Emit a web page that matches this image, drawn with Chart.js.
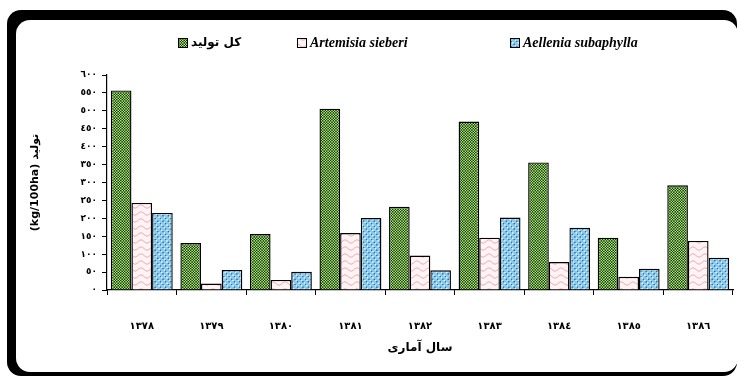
<!DOCTYPE html>
<html>
<head>
<meta charset="utf-8">
<script src="https://cdn.jsdelivr.net/npm/chart.js@4/dist/chart.umd.min.js"></script>
<style>
  html, body { margin: 0; padding: 0; background: #fff; }
  canvas { display: block; }
</style>
</head>
<body>
<canvas id="c" width="737" height="376"></canvas>
<script>
// Years (Persian calendar) and production per species
const years = ['١٣٧٨', '١٣٧٩', '١٣٨٠', '١٣٨١', '١٣٨٢', '١٣٨٣', '١٣٨٤', '١٣٨٥', '١٣٨٦'];
const totalProduction = [557, 131, 156, 506, 232, 470, 356, 146, 292];
const artemisiaSieberi = [243, 18, 28, 159, 96, 146, 78, 37, 137];
const aelleniaSubaphylla = [215, 56, 51, 201, 55, 202, 174, 59, 90];
const yTickLabels = ['٠', '٥٠', '١٠٠', '١٥٠', '٢٠٠', '٢٥٠', '٣٠٠', '٣٥٠', '٤٠٠', '٤٥٠', '٥٠٠', '٥٥٠', '٦٠٠'];
const seriesNames = ['کل تولید', 'Artemisia sieberi', 'Aellenia subaphylla'];

// Hatch fills for the bars
function tile(w, h, paint, scale) {
  const cv = document.createElement('canvas');
  cv.width = w; cv.height = h;
  const g = cv.getContext('2d');
  paint(g);
  const p = g.createPattern(cv, 'repeat');
  if (scale && p.setTransform) p.setTransform(new DOMMatrix().scale(scale));
  return p;
}
const greenFill = tile(8, 8, g => {
  g.fillStyle = '#16380a'; g.fillRect(0, 0, 8, 8);
  g.fillStyle = '#aeea7a';
  g.fillRect(0, 0, 2, 2); g.fillRect(4, 0, 2, 2);
  g.fillRect(2, 2, 2, 2); g.fillRect(6, 2, 2, 2);
  g.fillRect(0, 4, 2, 2); g.fillRect(4, 4, 2, 2);
  g.fillRect(2, 6, 2, 2); g.fillRect(6, 6, 2, 2);
}, 0.66);
const pinkFill = tile(12, 7, g => {
  g.fillStyle = '#fff3f3'; g.fillRect(0, 0, 12, 7);
  g.strokeStyle = '#ec9fb2'; g.lineWidth = 1;
  g.beginPath();
  for (let x = 0; x <= 12; x += 0.5) {
    const y = 3.5 + 1.6 * Math.sin(x / 12 * Math.PI * 2);
    if (x === 0) g.moveTo(x, y); else g.lineTo(x, y);
  }
  g.stroke();
});
const blueFill = tile(8, 8, g => {
  g.fillStyle = '#8ccaec'; g.fillRect(0, 0, 8, 8);
  g.fillStyle = '#e6f7ff';
  g.fillRect(0, 0, 2, 2); g.fillRect(4, 4, 2, 2);
  g.fillStyle = '#2f72aa';
  g.fillRect(2, 2, 2, 2); g.fillRect(6, 6, 2, 2);
}, 0.66);
const fills = [greenFill, pinkFill, blueFill];

const boldFont = (size) => ({ family: 'DejaVu Sans', size: size, weight: 'bold' });

// Framed panel behind the chart
const framePlugin = {
  id: 'frame',
  beforeDraw(chart) {
    const ctx = chart.ctx;
    ctx.save();
    ctx.fillStyle = '#fff';
    ctx.fillRect(0, 0, chart.width, chart.height);
    ctx.fillStyle = '#000';
    ctx.beginPath(); ctx.roundRect(7, 10, 730, 366, 14); ctx.fill();
    ctx.fillStyle = '#fff';
    ctx.beginPath(); ctx.roundRect(16, 20, 722, 352, 14); ctx.fill();
    ctx.restore();
  }
};

// Legend row with evenly spread entries
const legendX = [178, 297, 510];
const legendPlugin = {
  id: 'spreadLegend',
  afterDraw(chart) {
    const ctx = chart.ctx;
    const y = 43;
    ctx.save();
    chart.data.datasets.forEach((ds, i) => {
      const x = legendX[i];
      ctx.fillStyle = ds.backgroundColor;
      ctx.fillRect(x, y - 5, 9, 9);
      ctx.strokeStyle = '#000'; ctx.lineWidth = 1;
      ctx.strokeRect(x + 0.5, y - 4.5, 9, 9);
      ctx.fillStyle = '#000';
      ctx.textBaseline = 'middle';
      ctx.textAlign = 'left';
      ctx.font = i === 0 ? 'bold 12px "DejaVu Sans"' : 'italic bold 14px "Liberation Serif"';
      ctx.fillText(ds.label, x + 13, y);
    });
    ctx.restore();
  }
};

new Chart(document.getElementById('c'), {
  type: 'bar',
  data: {
    labels: years,
    datasets: [totalProduction, artemisiaSieberi, aelleniaSubaphylla].map((vals, i) => ({
      label: seriesNames[i],
      data: vals,
      backgroundColor: fills[i],
      borderColor: '#000',
      borderWidth: 1.4,
      categoryPercentage: 0.89,
      barPercentage: 1.0
    }))
  },
  options: {
    responsive: false,
    animation: false,
    devicePixelRatio: 1,
    layout: { padding: { left: 20, top: 75, right: 4, bottom: 14 } },
    plugins: { legend: { display: false }, tooltip: { enabled: false } },
    scales: {
      x: {
        grid: { display: true, drawOnChartArea: false, drawTicks: true, tickLength: 5, color: '#000', offset: true },
        border: { display: true, color: '#000', width: 1.2 },
        ticks: { font: boldFont(10), color: '#000', padding: 25, maxRotation: 0, autoSkip: false },
        title: { display: true, text: 'سال آماری', font: boldFont(12), color: '#000', padding: { top: 2, bottom: 7 } },
        afterFit: s => { s.height = 72; }
      },
      y: {
        min: 0, max: 600,
        grid: { display: true, drawOnChartArea: false, drawTicks: true, tickLength: 5, color: '#000' },
        border: { display: true, color: '#000', width: 1.2 },
        ticks: { stepSize: 50, font: boldFont(9), color: '#000', padding: 5, callback: (v, i) => yTickLabels[i] },
        title: { display: true, text: '(kg/100ha) تولید', font: boldFont(11), color: '#000', padding: { top: 9, bottom: 4 } },
        afterFit: s => { s.width = 87; }
      }
    }
  },
  plugins: [framePlugin, legendPlugin]
});
</script>
</body>
</html>
